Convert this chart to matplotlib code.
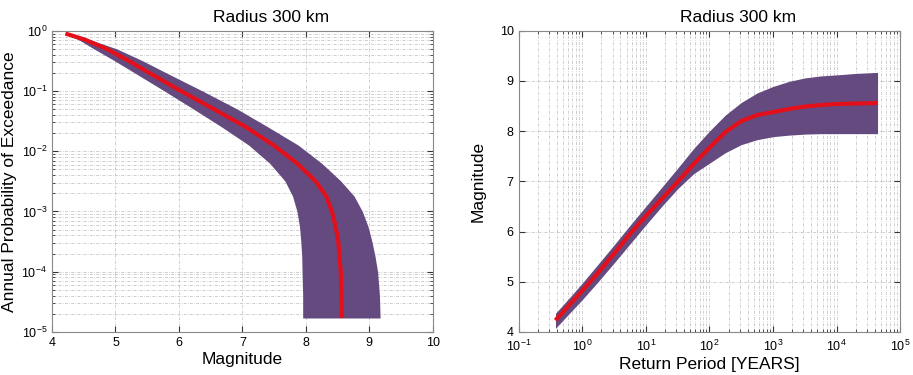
import numpy as np
import matplotlib
matplotlib.use('Agg')
import matplotlib.pyplot as plt
from matplotlib.ticker import LogLocator, NullFormatter

plt.rcParams['font.family'] = ['Liberation Sans', 'DejaVu Sans']
plt.rcParams['mathtext.default'] = 'regular'

# hazard curve: annual probability of exceedance and magnitude bounds
prob = [0.9, 0.71, 0.5, 0.32, 0.2, 0.1, 0.05, 0.025, 0.0126, 0.0063, 0.0032,
        0.0018, 1e-3, 5.6e-4, 3.2e-4, 1.8e-4, 1e-4, 4e-5, 1.7e-5]
mag_low = [4.20, 4.42, 4.66, 4.98, 5.30, 5.77, 6.23, 6.68, 7.10, 7.43, 7.67,
           7.79, 7.86, 7.90, 7.92, 7.935, 7.94, 7.95, 7.95]
mag_med = [4.21, 4.52, 4.86, 5.20, 5.53, 6.03, 6.55, 7.06, 7.49, 7.86, 8.15,
           8.32, 8.41, 8.47, 8.51, 8.53, 8.55, 8.56, 8.57]
mag_high = [4.25, 4.60, 5.02, 5.42, 5.80, 6.37, 6.92, 7.41, 7.88, 8.25, 8.55,
            8.76, 8.89, 8.98, 9.04, 9.09, 9.13, 9.16, 9.17]

# magnitude against return period (years)
period = [0.38, 0.63, 1, 1.78, 3.16, 5.62, 10, 17.8, 31.6, 56.2, 100, 178,
          316, 562, 1000, 1778, 3162, 5623, 10000, 20000, 44000]
rp_low = [4.07, 4.37, 4.64, 5.00, 5.37, 5.75, 6.13, 6.50, 6.85, 7.15, 7.36,
          7.57, 7.73, 7.83, 7.89, 7.92, 7.94, 7.95, 7.95, 7.95, 7.95]
rp_med = [4.23, 4.54, 4.82, 5.18, 5.56, 5.95, 6.31, 6.65, 6.99, 7.34, 7.67,
          7.98, 8.20, 8.32, 8.38, 8.44, 8.49, 8.52, 8.54, 8.55, 8.56]
rp_high = [4.37, 4.68, 4.97, 5.35, 5.73, 6.12, 6.50, 6.88, 7.26, 7.65, 8.00,
           8.32, 8.57, 8.76, 8.89, 8.99, 9.06, 9.10, 9.12, 9.15, 9.17]

band_color = '#644a7e'
line_color = '#e3101c'
grid_kw = dict(color='#b8b8b8', linestyle=(0, (4, 2, 1, 2)), linewidth=0.5)

fig = plt.figure(figsize=(9.13, 3.75), dpi=100)
ax1 = fig.add_axes([0.057, 0.115, 0.417, 0.803])
ax2 = fig.add_axes([0.568, 0.115, 0.418, 0.803])

# left panel
ax1.fill_betweenx(prob, mag_low, mag_high, color=band_color, linewidth=0)
ax1.plot(mag_med, prob, color=line_color, linewidth=3, solid_capstyle='butt')
ax1.set_yscale('log')
ax1.set_xlim(4, 10)
ax1.set_ylim(1e-5, 1)
ax1.yaxis.set_major_locator(LogLocator(base=10, numticks=10))
ax1.yaxis.set_minor_locator(LogLocator(base=10, subs=np.arange(2, 10), numticks=10))
ax1.yaxis.set_minor_formatter(NullFormatter())
ax1.grid(True, which='major', **grid_kw)
ax1.grid(True, which='minor', axis='y', **grid_kw)
ax1.set_xlabel('Magnitude', fontsize=12.5, labelpad=2)
ax1.set_ylabel('Annual Probability of Exceedance', fontsize=12.5, labelpad=3)
ax1.set_title('Radius 300 km', fontsize=12.5, x=0.575, pad=6)

# right panel
ax2.fill_between(period, rp_low, rp_high, color=band_color, linewidth=0)
ax2.plot(period, rp_med, color=line_color, linewidth=3, solid_capstyle='butt')
ax2.set_xscale('log')
ax2.set_xlim(0.1, 1e5)
ax2.set_ylim(4, 10)
ax2.xaxis.set_major_locator(LogLocator(base=10, numticks=10))
ax2.xaxis.set_minor_locator(LogLocator(base=10, subs=np.arange(2, 10), numticks=10))
ax2.xaxis.set_minor_formatter(NullFormatter())
ax2.grid(True, which='major', **grid_kw)
ax2.grid(True, which='minor', axis='x', **grid_kw)
ax2.set_xlabel('Return Period [YEARS]', fontsize=12.5, labelpad=2)
ax2.set_ylabel('Magnitude', fontsize=12.5, labelpad=10)
ax2.set_title('Radius 300 km', fontsize=12.5, x=0.575, pad=6)
ax2.tick_params(axis='x', pad=5)

for ax in (ax1, ax2):
    ax.set_axisbelow(True)
    for s in ax.spines.values():
        s.set_color('#888888')
        s.set_linewidth(0.8)
    ax.tick_params(which='both', direction='in', top=True, right=True,
                   labelsize=9, colors='#333333', labelcolor='black')
    ax.tick_params(which='major', length=4)
    ax.tick_params(which='minor', length=2)

fig.savefig('out.png', dpi=100)
